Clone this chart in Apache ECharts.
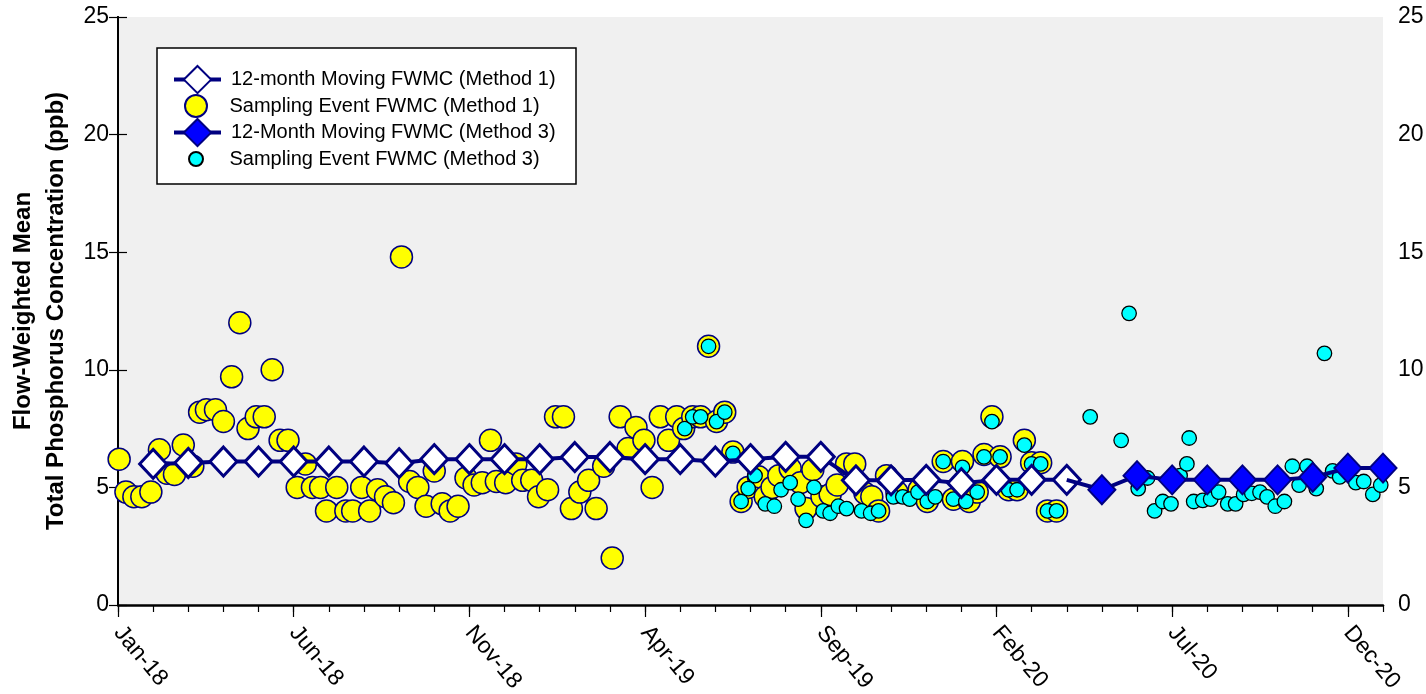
<!DOCTYPE html>
<html><head><meta charset="utf-8">
<script src="https://cdn.jsdelivr.net/npm/echarts@6/dist/echarts.min.js"></script>
<style>html,body{margin:0;padding:0;background:#fff}#c{width:1426px;height:694px}</style>
</head><body><div id="c"></div>
<script>
// ---- axis ticks ----
const xTickMonths = [0, 5, 10, 15, 20, 25, 30, 35];
const xTickLabels = ['Jan-18', 'Jun-18', 'Nov-18', 'Apr-19', 'Sep-19', 'Feb-20', 'Jul-20', 'Dec-20'];
const yTicks = [0, 5, 10, 15, 20, 25];

// ---- 12-month moving FWMC (Method 1) ----
const moving1Dates = ['2018-02-01','2018-03-01','2018-04-01','2018-05-01','2018-06-01','2018-07-01','2018-08-01','2018-09-01','2018-10-01','2018-11-01','2018-12-01','2019-01-01','2019-02-01','2019-03-01','2019-04-01','2019-05-01','2019-06-01','2019-07-01','2019-08-01','2019-09-01','2019-10-01','2019-11-01','2019-12-01','2020-01-01','2020-02-01','2020-03-01','2020-04-01'];
const moving1Values = [6.0, 6.04, 6.1, 6.1, 6.1, 6.1, 6.1, 6.03, 6.2, 6.2, 6.2, 6.2, 6.29, 6.29, 6.2, 6.2, 6.1, 6.2, 6.3, 6.3, 5.3, 5.3, 5.32, 5.18, 5.32, 5.32, 5.32];

// ---- 12-month moving FWMC (Method 3) ----
const moving3Dates = ['2020-05-01','2020-06-01','2020-07-01','2020-08-01','2020-09-01','2020-10-01','2020-11-01','2020-12-01','2021-01-01'];
const moving3Values = [4.9, 5.5, 5.32, 5.32, 5.32, 5.32, 5.43, 5.82, 5.82];

// ---- sampling event FWMC (Method 1) ----
const sample1Dates = ['2018-01-02','2018-01-08','2018-01-15','2018-01-22','2018-01-30','2018-02-06','2018-02-12','2018-02-18','2018-02-25','2018-03-05','2018-03-11','2018-03-17','2018-03-25','2018-04-01','2018-04-08','2018-04-15','2018-04-22','2018-04-29','2018-05-06','2018-05-13','2018-05-20','2018-05-27','2018-06-04','2018-06-11','2018-06-17','2018-06-24','2018-06-29','2018-07-08','2018-07-16','2018-07-22','2018-07-30','2018-08-06','2018-08-13','2018-08-20','2018-08-27','2018-09-03','2018-09-10','2018-09-17','2018-09-24','2018-10-01','2018-10-08','2018-10-15','2018-10-22','2018-10-29','2018-11-05','2018-11-12','2018-11-19','2018-11-24','2018-12-02','2018-12-11','2018-12-17','2018-12-25','2018-12-31','2019-01-08','2019-01-15','2019-01-22','2019-01-29','2019-02-05','2019-02-12','2019-02-18','2019-02-24','2019-03-03','2019-03-10','2019-03-17','2019-03-24','2019-03-31','2019-04-07','2019-04-14','2019-04-21','2019-04-28','2019-05-04','2019-05-12','2019-05-19','2019-05-26','2019-06-02','2019-06-09','2019-06-16','2019-06-23','2019-06-29','2019-07-08','2019-07-14','2019-07-20','2019-07-26','2019-08-05','2019-08-14','2019-08-19','2019-08-25','2019-09-02','2019-09-09','2019-09-15','2019-09-23','2019-09-30','2019-10-09','2019-10-15','2019-10-21','2019-10-28','2019-11-06','2019-11-25','2019-12-02','2019-12-16','2019-12-25','2020-01-02','2020-01-08','2020-01-15','2020-01-21','2020-01-28','2020-02-04','2020-02-11','2020-02-18','2020-02-24','2020-03-01','2020-03-09','2020-03-15','2020-03-23'];
const sample1Values = [6.2, 4.8, 4.6, 4.6, 4.8, 6.6, 5.6, 5.55, 6.8, 5.9, 8.2, 8.3, 8.3, 7.8, 9.7, 12.0, 7.5, 8.0, 8.0, 10.0, 7.0, 7.0, 5.0, 6.0, 5.0, 5.0, 4.0, 5.0, 4.0, 4.0, 5.0, 4.0, 4.9, 4.6, 4.35, 14.8, 5.25, 5.0, 4.2, 5.7, 4.3, 4.0, 4.2, 5.4, 5.1, 5.2, 7.0, 5.25, 5.2, 6.0, 5.3, 5.3, 4.6, 4.9, 8.0, 8.0, 4.1, 4.8, 5.3, 4.1, 5.9, 2.0, 8.0, 6.65, 7.55, 7.0, 5.0, 8.0, 7.0, 8.0, 7.5, 8.0, 8.0, 11.0, 7.8, 8.2, 6.5, 4.4, 5.0, 5.45, 4.6, 5.0, 5.5, 5.8, 5.2, 4.1, 5.75, 4.6, 4.7, 5.1, 6.0, 6.0, 4.75, 4.6, 4.0, 5.5, 4.8, 4.9, 4.4, 6.1, 4.5, 6.1, 4.4, 4.8, 6.4, 8.0, 6.3, 4.9, 4.9, 7.0, 6.05, 6.05, 4.0, 4.0];

// ---- sampling event FWMC (Method 3) ----
const sample3Dates = ['2019-05-05','2019-05-12','2019-05-19','2019-05-26','2019-06-02','2019-06-09','2019-06-16','2019-06-23','2019-06-29','2019-07-05','2019-07-14','2019-07-22','2019-07-28','2019-08-05','2019-08-12','2019-08-19','2019-08-26','2019-09-03','2019-09-09','2019-09-16','2019-09-23','2019-10-06','2019-10-14','2019-10-21','2019-11-03','2019-11-11','2019-11-17','2019-11-24','2019-12-02','2019-12-09','2019-12-16','2019-12-25','2020-01-02','2020-01-05','2020-01-15','2020-01-21','2020-01-28','2020-02-04','2020-02-11','2020-02-18','2020-02-24','2020-03-01','2020-03-09','2020-03-15','2020-03-23','2020-04-21','2020-05-18','2020-05-25','2020-06-02','2020-06-10','2020-06-16','2020-06-23','2020-06-30','2020-07-08','2020-07-14','2020-07-16','2020-07-20','2020-07-28','2020-08-04','2020-08-11','2020-08-19','2020-08-26','2020-09-02','2020-09-09','2020-09-16','2020-09-22','2020-09-29','2020-10-07','2020-10-14','2020-10-20','2020-10-27','2020-11-04','2020-11-11','2020-11-18','2020-11-24','2020-12-08','2020-12-15','2020-12-23','2020-12-30'];
const sample3Values = [7.5, 8.0, 8.0, 11.0, 7.8, 8.2, 6.45, 4.4, 4.95, 5.5, 4.3, 4.2, 4.9, 5.2, 4.5, 3.6, 5.0, 4.0, 3.9, 4.2, 4.1, 4.0, 3.9, 4.0, 4.6, 4.6, 4.5, 4.8, 4.4, 4.6, 6.1, 4.5, 5.85, 4.4, 4.8, 6.3, 7.8, 6.3, 4.9, 4.9, 6.8, 6.0, 6.0, 4.0, 4.0, 8.0, 7.0, 12.4, 4.95, 5.4, 4.0, 4.4, 4.3, 5.5, 6.0, 7.1, 4.4, 4.45, 4.5, 4.8, 4.3, 4.3, 4.7, 4.75, 4.8, 4.6, 4.2, 4.4, 5.9, 5.1, 5.9, 4.95, 10.7, 5.7, 5.45, 5.2, 5.25, 4.7, 5.1];

// month index (0 = 1 Jan 2018) with day fraction
function monthIndex(s) {
  const p = s.split('-').map(Number);
  const dim = new Date(p[0], p[1], 0).getDate();
  return (p[0] - 2018) * 12 + (p[1] - 1) + (p[2] - 1) / dim;
}
const pairs = (d, v) => d.map((s, i) => [monthIndex(s), v[i]]);

const FONT = '"Liberation Sans", Arial, sans-serif';
const NAVY = '#000080';
const names = ['12-month Moving FWMC (Method 1)', 'Sampling Event FWMC (Method 1)', '12-Month Moving FWMC (Method 3)', 'Sampling Event FWMC (Method 3)'];

const m3Data = [{ value: [monthIndex(moving1Dates[moving1Dates.length - 1]), moving1Values[moving1Values.length - 1]], symbol: 'none' }]
  .concat(pairs(moving3Dates, moving3Values));

const chart = echarts.init(document.getElementById('c'), null, { renderer: 'canvas' });

function legendFor(i, left, top, h) {
  return {
    data: [names[i]], left: left, top: top, orient: 'vertical', padding: 0,
    itemWidth: 47, itemHeight: h, selectedMode: false, z: 6,
    lineStyle: { width: 4, color: NAVY },
    textStyle: { fontFamily: FONT, fontSize: 20, color: '#000', padding: [0, 0, 0, 5] }
  };
}

chart.setOption({
  animation: false,
  backgroundColor: '#fff',
  grid: { left: 118, right: 43, top: 17, bottom: 89, show: true, backgroundColor: '#f0f0f0', borderWidth: 0, containLabel: false, outerBoundsMode: 'none' },
  graphic: [{ type: 'rect', z: 3, shape: { x: 157, y: 48, width: 419, height: 136 }, style: { fill: '#fff', stroke: '#000', lineWidth: 1.5 } }],
  legend: [legendFor(0, 172, 65, 34), legendFor(1, 184, 94, 22), legendFor(2, 172, 118, 34), legendFor(3, 188, 149, 14)],
  xAxis: [
    {
      type: 'value', min: 0, max: 36, position: 'bottom',
      axisLine: { show: true, onZero: false, lineStyle: { color: '#000', width: 2.5 } },
      axisTick: { show: true, length: 12, customValues: xTickMonths, lineStyle: { color: '#000', width: 1.2 } },
      axisLabel: {
        customValues: xTickMonths, rotate: -50, margin: 24,
        fontFamily: FONT, fontSize: 23, color: '#000',
        formatter: v => xTickLabels[xTickMonths.indexOf(Math.round(v))] || ''
      },
      splitLine: { show: false }
    },
    {
      type: 'value', min: 0, max: 36, interval: 1, position: 'bottom',
      axisLine: { show: false },
      axisTick: { show: true, length: 7, lineStyle: { color: '#000', width: 1.2 } },
      axisLabel: { show: false }, splitLine: { show: false }
    }
  ],
  yAxis: [
    {
      type: 'value', min: 0, max: 25, interval: 5, position: 'left',
      axisLine: { show: true, lineStyle: { color: '#000', width: 2 } },
      axisTick: { show: true, inside: true, length: 9, lineStyle: { color: '#000', width: 1.2 } },
      axisLabel: { margin: 9, fontFamily: FONT, fontSize: 23, color: '#000', customValues: yTicks },
      splitLine: { show: false },
      name: 'Flow-Weighted Mean\nTotal Phosphorus Concentration (ppb)',
      nameLocation: 'middle', nameRotate: 90, nameGap: 44,
      nameTextStyle: { fontFamily: FONT, fontSize: 24, fontWeight: 'bold', color: '#000', lineHeight: 33 }
    },
    {
      type: 'value', min: 0, max: 25, interval: 5, position: 'right',
      axisLine: { show: true, lineStyle: { color: '#000', width: 2 } },
      axisTick: { show: true, inside: true, length: 9, lineStyle: { color: '#000', width: 1.2 } },
      axisLabel: { margin: 15, fontFamily: FONT, fontSize: 23, color: '#000' },
      splitLine: { show: false }
    }
  ],
  series: [
    {
      name: names[1], type: 'scatter', data: pairs(sample1Dates, sample1Values), z: 2,
      symbol: 'circle', symbolSize: 22, silent: true,
      itemStyle: { color: '#ffff00', borderColor: NAVY, borderWidth: 1.5, opacity: 1 }
    },
    {
      name: names[3], type: 'scatter', data: pairs(sample3Dates, sample3Values), z: 3,
      symbol: 'circle', symbolSize: 14.5, silent: true,
      itemStyle: { color: '#00ffff', borderColor: '#000', borderWidth: 1.3, opacity: 1 }
    },
    {
      name: names[0], type: 'line', data: pairs(moving1Dates, moving1Values), z: 4,
      symbol: 'diamond', symbolSize: [27, 29], showAllSymbol: true, silent: true,
      lineStyle: { color: NAVY, width: 4 },
      itemStyle: { color: '#ffffff', borderColor: NAVY, borderWidth: 3 }
    },
    {
      name: names[2], type: 'line', data: m3Data, z: 5,
      symbol: 'diamond', symbolSize: [27, 29], showAllSymbol: true, silent: true,
      lineStyle: { color: NAVY, width: 4 },
      itemStyle: { color: '#0000ff', borderColor: NAVY, borderWidth: 2 }
    }
  ]
});
</script>
</body></html>
